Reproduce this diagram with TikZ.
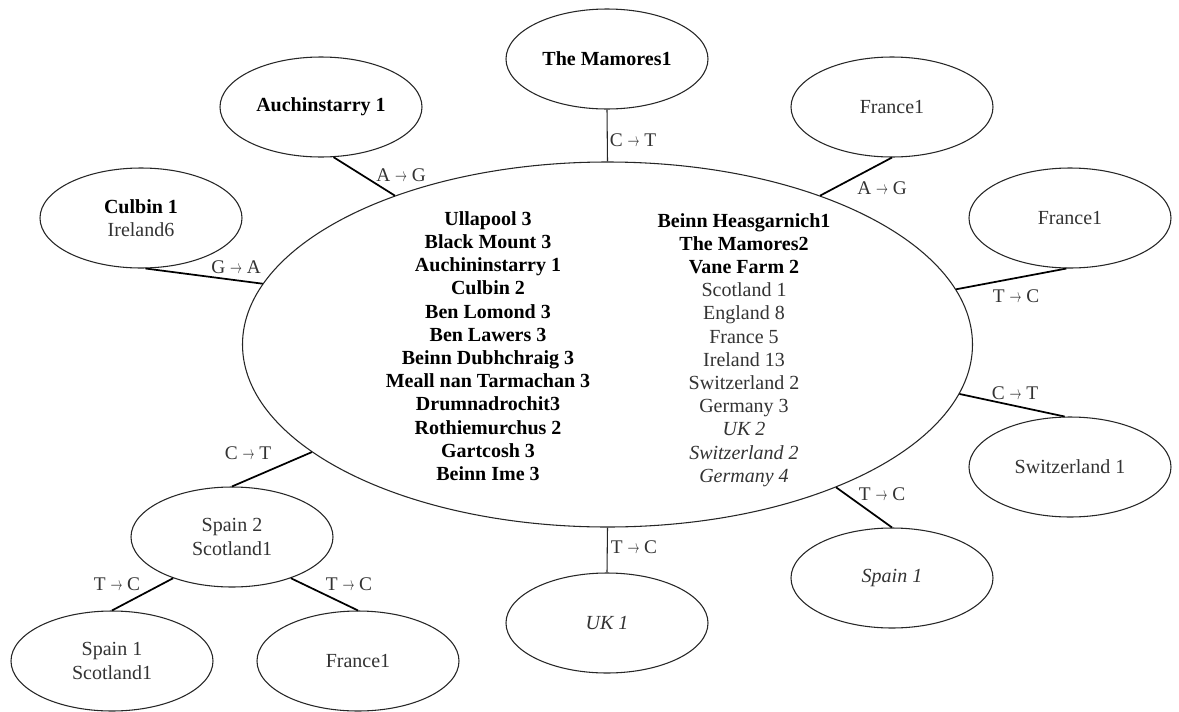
\documentclass[tikz,border=0pt]{standalone}
\usepackage{fontspec}
\setmainfont{Liberation Serif}
\usepackage{graphicx}
\usetikzlibrary{shapes.geometric}
\newcommand{\mutarr}{\scalebox{0.62}[1]{$\rightarrow$}}
\begin{document}
\begin{tikzpicture}[x=0.75pt,y=-0.75pt,
  sat/.style={ellipse,draw=black!85,line width=0.8pt,minimum width=151.5pt,minimum height=75pt,inner sep=0pt,align=center,font=\fontsize{15}{17.4}\selectfont,text=black!80},
  hub/.style={ellipse,draw=black!85,line width=0.8pt,minimum width=547.5pt,minimum height=273.75pt,inner sep=0pt},
  col/.style={align=center,inner sep=0pt,font=\fontsize{15}{17.4}\selectfont},
  link/.style={draw=black,line width=1.3pt},
  vlink/.style={draw=black!85,line width=0.8pt},
  mut/.style={font=\fontsize{14.5}{16}\selectfont,text=black!80,inner sep=0pt}
]
\fill[white] (0,0) rectangle (1179,711);
\useasboundingbox (0,0) rectangle (1179,711);

% central ellipse and its two columns
\node[hub] (c) at (607.5,344.5) {};
\node[col,font=\fontsize{15}{17.4}\selectfont\bfseries] (left) at (488,346) {Ullapool 3\\ Black Mount 3\\ Auchininstarry 1\\ Culbin 2\\ Ben Lomond 3\\ Ben Lawers 3\\ Beinn Dubhchraig 3\\ Meall nan Tarmachan 3\\ Drumnadrochit3\\ Rothiemurchus 2\\ Gartcosh 3\\ Beinn Ime 3};
\node[col] (right) at (744,350) {\textbf{Beinn Heasgarnich1}\\ \textbf{The Mamores2}\\ \textbf{Vane Farm 2}\\
 \textcolor{black!80}{Scotland 1}\\ \textcolor{black!80}{England 8}\\ \textcolor{black!80}{France 5}\\ \textcolor{black!80}{Ireland 13}\\ \textcolor{black!80}{Switzerland 2}\\ \textcolor{black!80}{Germany 3}\\
 \textcolor{black!80}{\textit{UK 2}}\\ \textcolor{black!80}{\textit{Switzerland 2}}\\ \textcolor{black!80}{\textit{Germany 4}}};

% satellites
\node[sat] (mam) at (607,59) {\textcolor{black}{\textbf{The Mamores1}}};
\node[sat] (auc) at (321,107) {\textcolor{black}{\textbf{Auchinstarry 1}}};
\node[sat] (cul) at (141,218) {\textcolor{black}{\textbf{Culbin 1}}\\ Ireland6};
\node[sat] (fra) at (892,107) {France1};
\node[sat] (frb) at (1070,218) {France1};
\node[sat] (swi) at (1070,467) {Switzerland 1};
\node[sat] (spa) at (892,578) {\textit{Spain 1}};
\node[sat] (uk) at (607,623) {\textit{UK 1}};
\node[sat] (spb) at (232,537) {Spain 2\\ Scotland1};
\node[sat] (spc) at (112,661) {Spain 1\\ Scotland1};
\node[sat] (frc) at (358,661) {France1};

% connectors
\draw[vlink] (mam.south) -- (c.north);
\draw[link] (auc.-76.5) -- (c.145.5);
\draw[link] (cul.-85.4) -- (c.170.6);
\draw[link] (fra.south) -- (c.35.6);
\draw[link] (frb.-94.6) -- (c.9.7);
\draw[link] (swi.96.8) -- (c.-8.7);
\draw[link] (spa.north) -- (c.-32.5);
\draw[vlink] (c.south) -- (uk.north);
\draw[link] (spb.north) -- (c.-160.8);
\draw[link] (spb.-145) -- (spc.north);
\draw[link] (spb.-35) -- (frc.north);

% mutation labels
\node[mut] (lmam) at (633,140) {C \mutarr{} T};
\node[mut] (lauc) at (401,175) {A \mutarr{} G};
\node[mut] (lcul) at (236,267) {G \mutarr{} A};
\node[mut] (lfra) at (882,188) {A \mutarr{} G};
\node[mut] (lfrb) at (1016,296) {T \mutarr{} C};
\node[mut] (lswi) at (1015,393) {C \mutarr{} T};
\node[mut] (lspa) at (882,494) {T \mutarr{} C};
\node[mut] (luk) at (634,547) {T \mutarr{} C};
\node[mut] (lspb) at (248,453) {C \mutarr{} T};
\node[mut] (lspc) at (117,584) {T \mutarr{} C};
\node[mut] (lfrc) at (349,584) {T \mutarr{} C};
\end{tikzpicture}
\end{document}
